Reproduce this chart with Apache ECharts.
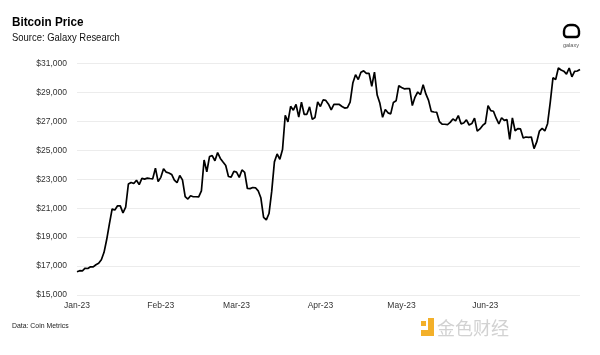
<!DOCTYPE html>
<html>
<head>
<meta charset="utf-8">
<script src="https://cdn.jsdelivr.net/npm/echarts@6/dist/echarts.min.js"></script>
<style>
  html, body { margin: 0; padding: 0; background: #fff; }
  #chart { width: 600px; height: 355px; }
</style>
</head>
<body>
<div id="chart"></div>
<script>
// ---- data ----
var startDate = '2023-01-01';
var monthLabels = ['Jan-23', 'Feb-23', 'Mar-23', 'Apr-23', 'May-23', 'Jun-23'];
var yTicks = [15000, 17000, 19000, 21000, 23000, 25000, 27000, 29000, 31000];
var prices = [
  16610,16680,16670,16850,16830,16950,16940,17090,17190,17440,17950,18850,19930,20950,20870,21170,21160,20680,21080,22670,22780,22710,22930,22630,23060,23010,23080,
  23050,
  23030,23770,22840,23130,23730,23490,23430,23330,22940,22760,23260,22960,21800,21630,21860,21790,
  21790,
  21780,22200,24330,23520,24570,24630,24280,24840,24440,24190,23950,23190,23150,23550,23490,23130,23640,23470,22360,22350,22430,22410,22200,21700,20360,20190,20630,22160,24200,24750,24380,25050,27420,26970,28040,27770,28170,27300,28330,27490,27490,28000,27140,27270,28350,28030,28480,28450,28190,27790,28170,
  28170,
  28170,28030,27920,27950,28330,29650,30230,29890,30400,30490,30320,30320,29430,30400,28820,28250,27280,27820,27590,27520,28310,28420,29470,29340,29250,
  29260,
  29270,28090,28680,29030,28850,29530,28900,28450,27690,27650,27630,26990,26810,
  26800,
  26780,26930,27170,27030,27400,26830,26890,27100,26750,26850,27220,26330,26480,26720,26870,28090,27740,27700,27220,26820,27250,27070,27120,25760,27240,26350,26500,26480,25850,25920,25900,25920,25120,25580,26330,26510,26340,26840,28310,30010,29890,30690,30550,30470,30270,30690,30080,30450,30480,30590
];

// daily category dates
var dates = [];
(function () {
  var d = new Date(startDate + 'T00:00:00Z');
  for (var i = 0; i < prices.length; i++) {
    var y = d.getUTCFullYear(), m = d.getUTCMonth() + 1, dd = d.getUTCDate();
    dates.push(y + '-' + (m < 10 ? '0' + m : m) + '-' + (dd < 10 ? '0' + dd : dd));
    d.setUTCDate(d.getUTCDate() + 1);
  }
})();

function isLabelled(value) {
  var m = parseInt(value.substr(5, 2), 10);
  return value.substr(8, 2) === '01' && m <= monthLabels.length;
}

var chart = echarts.init(document.getElementById('chart'), null, { renderer: 'canvas' });
var yellow = '#f3b02a';
var option = {
  backgroundColor: '#ffffff',
  animation: false,
  grid: { left: 77, right: 20, top: 63.5, bottom: 60, containLabel: false },
  xAxis: {
    type: 'category',
    data: dates,
    boundaryGap: false,
    axisLine: { show: false },
    axisTick: { show: false },
    splitLine: { show: false },
    axisLabel: {
      interval: function (index, value) { return isLabelled(value); },
      formatter: function (value) {
        var m = parseInt(value.substr(5, 2), 10);
        return monthLabels[m - 1] || '';
      },
      margin: 6,
      color: '#333',
      fontSize: 8.5,
      fontFamily: "'Liberation Sans', Arial, sans-serif"
    }
  },
  yAxis: {
    type: 'value',
    min: yTicks[0],
    max: yTicks[yTicks.length - 1],
    interval: 2000,
    axisLine: { show: false },
    axisTick: { show: false },
    splitLine: { show: true, lineStyle: { color: '#ececec', width: 1 } },
    axisLabel: {
      margin: 10,
      color: '#333',
      fontSize: 8.5,
      fontFamily: "'Liberation Sans', Arial, sans-serif",
      formatter: function (v) { return '$' + v.toLocaleString('en-US'); }
    }
  },
  series: [{
    type: 'line',
    data: prices,
    showSymbol: false,
    symbol: 'none',
    lineStyle: { color: '#000000', width: 1.7 },
    z: 3
  }],
  graphic: [
    { type: 'text', x: 12, y: 16, scaleX: 0.9, style: { text: 'Bitcoin Price', fill: '#000', font: "bold 13px 'Liberation Sans', Arial, sans-serif" } },
    { type: 'text', x: 12, y: 32, scaleX: 0.86, style: { text: 'Source: Galaxy Research', fill: '#111', font: "11px 'Liberation Sans', Arial, sans-serif" } },
    { type: 'text', x: 12, y: 322, scaleX: 0.86, style: { text: 'Data: Coin Metrics', fill: '#222', font: "8px 'Liberation Sans', Arial, sans-serif" } },
    // galaxy logo
    { type: 'rect', shape: { x: 564, y: 25, width: 15, height: 12, r: [6, 6, 3, 3] }, style: { fill: 'none', stroke: '#000', lineWidth: 2.4 } },
    { type: 'text', x: 563, y: 42, style: { text: 'galaxy', fill: '#555', font: "5.5px 'Liberation Sans', Arial, sans-serif" } },
    // watermark
    { type: 'rect', shape: { x: 421, y: 321, width: 5, height: 5 }, style: { fill: yellow } },
    { type: 'polygon', shape: { points: [[428, 318], [434, 318], [434, 336], [421, 336], [421, 330], [428, 330]] }, style: { fill: yellow } },
    { type: 'text', x: 437, y: 319, style: { text: '金色财经', fill: '#d2d2d2', font: "18px 'Noto Sans CJK SC', sans-serif" } }
  ]
};
chart.setOption(option);
</script>
</body>
</html>
